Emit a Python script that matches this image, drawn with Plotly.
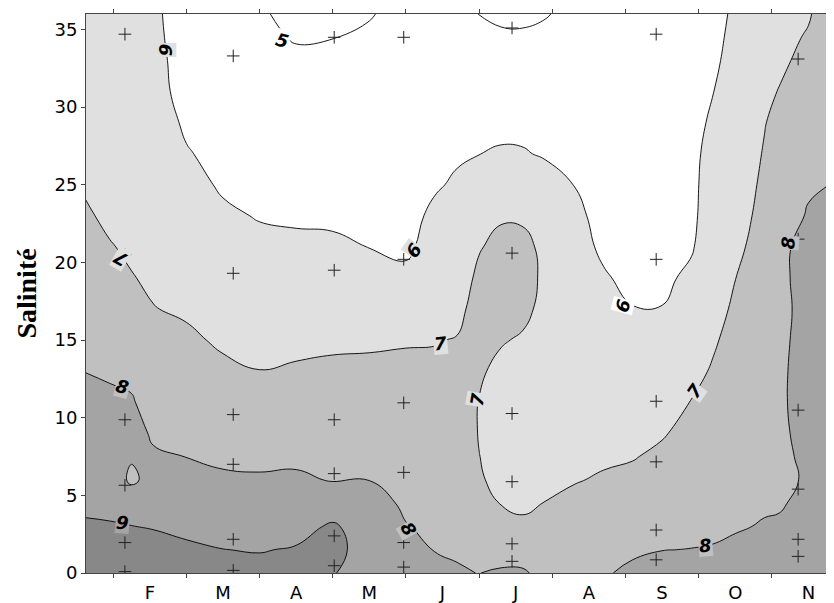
import numpy as np
import plotly.graph_objects as go

# ---------------- data ----------------
# grid positions (month index: 2 = February ... 11 = November ; salinity)
month_grid = [1.12, 1.45, 1.75, 2.05, 2.5, 3.0, 3.5, 4.0, 4.5, 5.0, 5.5, 5.9, 6.2, 6.5,
              6.8, 7.1, 7.4, 7.8, 8.2, 8.6, 9.0, 9.4, 9.7, 10.0, 10.4, 10.6, 11.0, 11.36]
salinity_grid = [0, 1.5, 3, 4.5, 6, 7.5, 9, 11, 13, 15, 17, 19, 21, 23, 25, 27, 29, 31, 33, 34.5, 36]

# estimated field values, one list per month column (bottom -> top)
field_columns = [
    [9.38, 9.22, 9.06, 8.90, 8.74, 8.58, 8.42, 8.20, 7.99, 7.81, 7.63, 7.45, 7.26, 7.08, 6.93, 6.82, 6.72, 6.64, 6.57, 6.53, 6.50],
    [9.38, 9.21, 9.04, 8.87, 8.70, 8.53, 8.36, 8.14, 7.91, 7.70, 7.48, 7.26, 7.04, 6.88, 6.76, 6.66, 6.57, 6.49, 6.42, 6.38, 6.34],
    [9.36, 9.19, 9.01, 8.75, 7.80, 8.10, 8.31, 8.07, 7.82, 7.55, 7.29, 7.03, 6.90, 6.78, 6.67, 6.57, 6.48, 6.40, 6.33, 6.28, 6.23],
    [9.53, 9.24, 8.96, 8.67, 8.38, 8.10, 7.89, 7.67, 7.46, 7.24, 7.02, 6.90, 6.79, 6.68, 6.57, 6.46, 6.35, 6.21, 6.20, 6.15, 6.12],
    [9.41, 9.12, 8.84, 8.55, 8.27, 7.99, 7.81, 7.58, 7.35, 7.12, 6.91, 6.74, 6.57, 6.40, 6.22, 6.05, 5.90, 5.80, 5.73, 5.70, 5.68],
    [9.30, 9.01, 8.71, 8.41, 8.11, 7.87, 7.67, 7.40, 7.13, 6.90, 6.70, 6.50, 6.31, 6.11, 5.92, 5.80, 5.68, 5.57, 5.47, 5.40, 5.35],
    [9.25, 8.96, 8.67, 8.37, 8.08, 7.84, 7.61, 7.31, 7.01, 6.80, 6.59, 6.38, 6.17, 5.96, 5.78, 5.62, 5.48, 5.35, 5.22, 5.12, 5.05],
    [9.38, 9.06, 8.74, 8.43, 8.11, 7.86, 7.65, 7.36, 7.08, 6.83, 6.59, 6.36, 6.12, 5.92, 5.76, 5.60, 5.43, 5.26, 5.10, 4.96, 4.88],
    [9.03, 9.20, 9.10, 8.52, 7.96, 7.79, 7.61, 7.37, 7.13, 6.88, 6.62, 6.36, 6.10, 5.90, 5.75, 5.59, 5.43, 5.27, 5.12, 4.99, 4.88],
    [8.75, 8.70, 8.60, 8.30, 7.99, 7.81, 7.63, 7.39, 7.16, 6.89, 6.58, 6.28, 5.99, 5.85, 5.72, 5.58, 5.45, 5.31, 5.18, 5.07, 4.97],
    [8.48, 8.26, 8.03, 7.88, 7.75, 7.62, 7.49, 7.31, 7.20, 6.93, 6.55, 6.19, 5.85, 5.78, 5.72, 5.62, 5.50, 5.38, 5.28, 5.20, 5.15],
    [8.12, 7.98, 7.87, 7.76, 7.64, 7.53, 7.42, 7.27, 7.13, 6.97, 6.76, 6.55, 6.34, 6.14, 5.93, 5.80, 5.70, 5.62, 5.52, 5.45, 5.40],
    [8.05, 7.94, 7.84, 7.74, 7.62, 7.50, 7.40, 7.30, 7.18, 7.03, 6.84, 6.65, 6.47, 6.28, 6.09, 5.92, 5.82, 5.72, 5.60, 5.50, 5.40],
    [7.99, 7.60, 7.30, 7.15, 7.06, 7.01, 6.97, 6.98, 7.08, 7.18, 7.24, 7.14, 6.95, 6.60, 6.30, 5.99, 5.78, 5.60, 5.40, 5.20, 4.98],
    [8.10, 7.65, 7.30, 6.98, 6.85, 6.78, 6.75, 6.76, 6.85, 7.05, 7.25, 7.30, 7.20, 6.92, 6.50, 6.08, 5.80, 5.60, 5.40, 5.12, 4.85],
    [8.10, 7.60, 7.10, 6.90, 6.75, 6.68, 6.65, 6.66, 6.73, 6.93, 7.15, 7.30, 7.18, 6.90, 6.50, 6.06, 5.78, 5.58, 5.38, 5.10, 4.85],
    [7.75, 7.52, 7.30, 7.01, 6.90, 6.80, 6.72, 6.68, 6.70, 6.75, 6.83, 6.85, 6.84, 6.66, 6.35, 5.92, 5.70, 5.50, 5.30, 5.10, 4.97],
    [7.60, 7.42, 7.26, 7.12, 6.97, 6.88, 6.80, 6.72, 6.65, 6.58, 6.48, 6.36, 6.23, 6.15, 5.99, 5.80, 5.60, 5.45, 5.30, 5.20, 5.12],
    [7.90, 7.55, 7.32, 7.18, 7.05, 6.93, 6.82, 6.66, 6.50, 6.36, 6.21, 6.06, 5.90, 5.80, 5.60, 5.50, 5.40, 5.35, 5.30, 5.28, 5.25],
    [8.20, 7.85, 7.65, 7.41, 7.17, 6.96, 6.81, 6.61, 6.42, 6.22, 6.02, 5.85, 5.70, 5.55, 5.45, 5.38, 5.32, 5.28, 5.25, 5.22, 5.20],
    [8.21, 7.99, 7.78, 7.57, 7.36, 7.14, 6.94, 6.71, 6.48, 6.25, 6.02, 5.85, 5.72, 5.62, 5.55, 5.50, 5.45, 5.42, 5.40, 5.38, 5.36],
    [8.20, 8.01, 7.86, 7.71, 7.55, 7.38, 7.22, 7.02, 6.80, 6.58, 6.37, 6.15, 5.93, 5.86, 5.86, 5.85, 5.76, 5.70, 5.60, 5.55, 5.50],
    [8.30, 8.05, 7.85, 7.70, 7.55, 7.43, 7.32, 7.20, 7.07, 6.92, 6.76, 6.60, 6.45, 6.35, 6.27, 6.20, 6.12, 5.99, 5.85, 5.75, 5.65],
    [8.25, 8.09, 7.96, 7.87, 7.78, 7.69, 7.60, 7.48, 7.35, 7.23, 7.11, 6.99, 6.85, 6.73, 6.63, 6.55, 6.46, 6.38, 6.30, 6.25, 6.18],
    [8.30, 8.15, 8.03, 7.95, 7.88, 7.81, 7.74, 7.66, 7.58, 7.50, 7.42, 7.35, 7.28, 7.20, 7.13, 7.05, 6.97, 6.89, 6.82, 6.76, 6.70],
    [8.30, 8.15, 8.04, 7.97, 7.90, 7.85, 7.88, 7.86, 7.84, 7.82, 7.80, 7.77, 7.72, 7.70, 7.48, 7.35, 7.20, 7.02, 6.90, 6.84, 6.78],
    [8.45, 8.40, 8.30, 8.08, 8.05, 8.14, 8.20, 8.35, 8.37, 8.30, 8.25, 8.38, 8.40, 8.05, 7.93, 7.75, 7.55, 7.35, 7.15, 7.05, 6.95],
    [8.50, 8.45, 8.40, 8.35, 8.35, 8.40, 8.45, 8.50, 8.50, 8.48, 8.45, 8.42, 8.35, 8.20, 8.02, 7.85, 7.70, 7.58, 7.48, 7.40, 7.35],
]

# sampling stations (+ marks)
station_months = [1.66, 3.14, 4.52, 5.47, 6.95, 8.92, 10.86]
station_salinity = [
    [34.7, 20.5, 9.87, 5.65, 1.96, 0.09],
    [33.3, 19.3, 10.2, 7.0, 2.17, 0.17],
    [34.5, 19.5, 9.87, 6.4, 2.39, 0.47],
    [34.5, 20.2, 10.96, 6.48, 1.96, 0.38],
    [35.1, 20.6, 10.27, 5.88, 1.88, 0.75],
    [34.7, 20.2, 11.06, 7.16, 2.77, 0.85],
    [33.1, 21.5, 10.49, 5.4, 2.17, 1.07],
]

# axis ticks
month_boundaries = [1.5, 2.5, 3.5, 4.5, 5.5, 6.5, 7.5, 8.5, 9.5, 10.5]
month_centers = [2, 3, 4, 5, 6, 7, 8, 9, 10, 11]
month_labels = ["F", "M", "A", "M", "J", "J", "A", "S", "O", "N"]
salinity_ticks = [0, 5, 10, 15, 20, 25, 30, 35]

# contour labels (value, month, salinity, angle)
label_values = ["6", "5", "6", "6", "7", "7", "7", "7", "8", "8", "8", "8", "9"]
label_months = [2.21, 3.82, 5.60, 8.47, 1.60, 5.97, 6.47, 9.45, 1.62, 5.54, 9.59, 10.72, 1.62]
label_salinity = [33.7, 34.3, 20.8, 17.2, 20.25, 14.8, 11.2, 11.75, 12.0, 2.8, 1.77, 21.3, 3.24]
label_angles = [90, 15, -55, -75, -150, -5, -80, -55, 15, 60, -5, -85, 5]
label_bg = ["#e0e0e0", "#ffffff", "#e0e0e0", "#ffffff", "#e0e0e0", "#e0e0e0", "#e0e0e0",
            "#e0e0e0", "#c0c0c0", "#c0c0c0", "#c0c0c0", "#c0c0c0", "#a4a4a4"]

# ---------------- figure ----------------
# the page body keeps its default 8 px margin, so the figure is sized/offset for it
X_RANGE = [1.128, 11.35]
z = np.array(field_columns).T

fig = go.Figure()
fig.add_trace(go.Contour(
    x=month_grid, y=salinity_grid, z=z,
    contours=dict(start=5, end=9, size=1, coloring="fill", showlabels=False),
    colorscale=[[0.0, "#ffffff"], [0.2, "#ffffff"], [0.4, "#e0e0e0"],
                [0.6, "#c0c0c0"], [0.8, "#a4a4a4"], [1.0, "#888888"]],
    line=dict(color="#000000", width=0.9, smoothing=1.3),
    showscale=False, hoverinfo="skip",
))

px_, py_ = [], []
for m, col in zip(station_months, station_salinity):
    for s in col:
        px_.append(m)
        py_.append(s)
fig.add_trace(go.Scatter(
    x=px_, y=py_, mode="markers", xaxis="x2", yaxis="y",
    marker=dict(symbol="cross-thin", size=9, line=dict(width=1, color="#222222"), color="#222222"),
    hoverinfo="skip", showlegend=False,
))

for t, m, s, a, bg in zip(label_values, label_months, label_salinity, label_angles, label_bg):
    fig.add_annotation(
        x=m, y=s, xref="x", yref="y", text="<b><i>%s</i></b>" % t, showarrow=False,
        textangle=a, font=dict(family="DejaVu Sans", size=18, color="#000000"),
        bgcolor=bg, borderpad=0,
    )

fig.add_annotation(
    x=-0.1035, y=0.5, xref="paper", yref="paper", text="<b>Salinité</b>", showarrow=False,
    textangle=-90, font=dict(family="Liberation Serif", size=28, color="#000000"),
    xanchor="left", yanchor="middle",
)

tick_font = dict(family="DejaVu Sans", size=18, color="#000000")
fig.update_layout(
    width=826, height=595,
    margin=dict(l=78, r=0, t=6, b=26),
    plot_bgcolor="white", paper_bgcolor="white",
    showlegend=False,
    xaxis=dict(range=X_RANGE, tickvals=month_boundaries, ticktext=[""] * len(month_boundaries),
               ticks="outside", ticklen=4, tickcolor="#444444", showline=True, linecolor="#444444",
               linewidth=1, mirror="ticks", showgrid=False, zeroline=False),
    xaxis2=dict(range=X_RANGE, overlaying="x", anchor="y", side="bottom",
                tickvals=month_centers, ticktext=month_labels, ticks="outside", ticklen=3,
                tickcolor="rgba(0,0,0,0)", showline=False, showgrid=False, zeroline=False,
                tickfont=tick_font),
    yaxis=dict(range=[0, 36], tickvals=salinity_ticks, ticks="outside", ticklen=4,
               tickcolor="#444444", showline=True, linecolor="#444444", linewidth=1,
               showgrid=False, zeroline=False, tickfont=tick_font),
)

fig.write_html("out.html")
